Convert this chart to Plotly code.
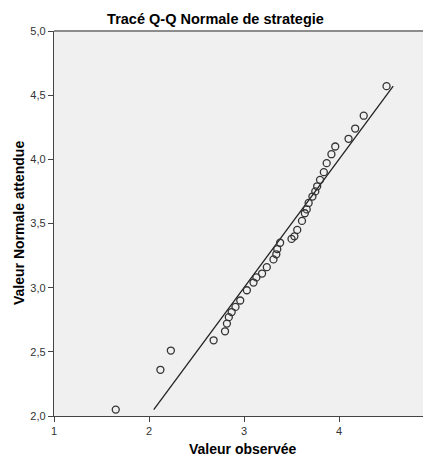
import plotly.graph_objects as go

observed = [1.65, 2.12, 2.23, 2.68, 2.80, 2.82, 2.84, 2.87, 2.91, 2.96, 3.03, 3.10, 3.13,
            3.19, 3.24, 3.31, 3.34, 3.35, 3.38, 3.50, 3.53, 3.56, 3.61, 3.64, 3.66, 3.68,
            3.72, 3.75, 3.77, 3.80, 3.84, 3.87, 3.92, 3.96, 4.10, 4.17, 4.26, 4.50]
expected = [2.05, 2.36, 2.51, 2.59, 2.66, 2.72, 2.77, 2.81, 2.85, 2.90, 2.98, 3.04, 3.08,
            3.11, 3.16, 3.22, 3.26, 3.30, 3.35, 3.38, 3.40, 3.45, 3.52, 3.58, 3.61, 3.66,
            3.71, 3.75, 3.79, 3.84, 3.90, 3.97, 4.04, 4.10, 4.16, 4.24, 4.34, 4.57]
ref_line = [min(expected), max(expected)]
x_ticks = [1, 2, 3, 4]
y_ticks = [2.0, 2.5, 3.0, 3.5, 4.0, 4.5, 5.0]

font = "Liberation Sans, Arial, sans-serif"
# page body has an 8px default margin; figure is sized/offset to compensate
W, H = 423, 450

fig = go.Figure()
fig.add_trace(go.Scatter(x=ref_line, y=ref_line, mode="lines",
                         line=dict(color="#222222", width=1.3), hoverinfo="skip"))
fig.add_trace(go.Scatter(x=observed, y=expected, mode="markers",
                         marker=dict(symbol="circle-open", size=7, color="#333333",
                                     line=dict(color="#333333", width=1.3))))

fig.update_layout(
    width=W, height=H,
    margin=dict(l=46, r=0, t=23, b=42, autoexpand=False),
    paper_bgcolor="white", plot_bgcolor="#f0f0f0",
    showlegend=False,
    separators=", ",
    font=dict(family=font, color="#333333", size=11),
    title=dict(text="<b>Tracé Q-Q Normale de strategie</b>", x=(215.5 - 8) / W,
               xref="container", xanchor="center",
               y=1 - 11 / H, yref="container", yanchor="middle",
               font=dict(size=14.5, color="#000000", family=font)),
    xaxis=dict(range=[1, 4.968], tickvals=x_ticks, ticks="outside", ticklen=5,
               tickcolor="#444444", showgrid=False, zeroline=False, showline=True,
               linecolor="#444444", linewidth=1.3, automargin=False),
    yaxis=dict(range=[2, 5], tickvals=y_ticks, tickformat=".1f", ticks="outside",
               ticklen=5, tickcolor="#444444", showgrid=False, zeroline=False,
               showline=True, linecolor="#444444", linewidth=1.3, automargin=False),
)
fig.add_annotation(text="<b>Valeur observée</b>", xref="paper", yref="paper",
                   x=0.5, y=-33 / 385, yanchor="middle", showarrow=False,
                   font=dict(size=14, color="#000000", family=font))
fig.add_annotation(text="<b>Valeur Normale attendue</b>", xref="paper", yref="paper",
                   x=-35.5 / 377, y=0.5, xanchor="center", yanchor="middle", textangle=-90,
                   showarrow=False, font=dict(size=14, color="#000000", family=font))
fig.add_shape(type="line", xref="paper", yref="paper", x0=0, x1=1, y0=1, y1=1,
              line=dict(color="#8c8c8c", width=2))
fig.write_html("out.html")
